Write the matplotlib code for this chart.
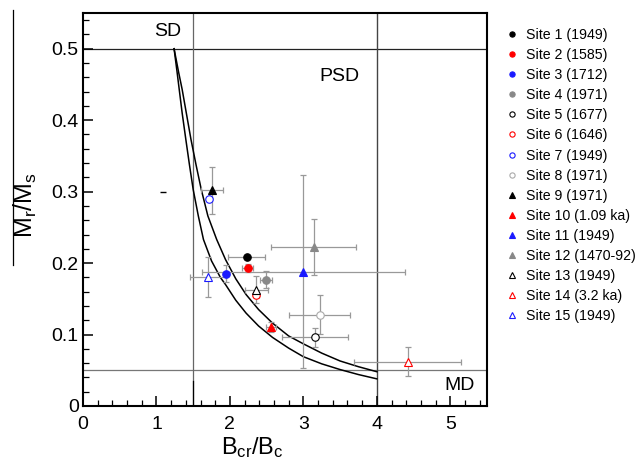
import matplotlib
matplotlib.use("Agg")
import matplotlib.pyplot as plt
from matplotlib.lines import Line2D
from matplotlib.ticker import MultipleLocator, FixedLocator, FixedFormatter

plt.rcParams['font.family'] = ['Liberation Sans', 'DejaVu Sans']
plt.rcParams['mathtext.fontset'] = 'custom'
plt.rcParams['mathtext.rm'] = 'Liberation Sans'
plt.rcParams['mathtext.it'] = 'Liberation Sans:italic'

# ---- data ----
site_labels = ['Site 1 (1949)', 'Site 2 (1585)', 'Site 3 (1712)', 'Site 4 (1971)',
               'Site 5 (1677)', 'Site 6 (1646)', 'Site 7 (1949)', 'Site 8 (1971)',
               'Site 9 (1971)', 'Site 10 (1.09 ka)', 'Site 11 (1949)',
               'Site 12 (1470-92)', 'Site 13 (1949)', 'Site 14 (3.2 ka)',
               'Site 15 (1949)']
bcr_bc = [2.23, 2.24, 1.95, 2.49, 3.16, 2.36, 1.71, 3.22, 1.75, 2.56, 3.00, 3.14, 2.36, 4.42, 1.70]
mr_ms = [0.208, 0.193, 0.185, 0.177, 0.096, 0.156, 0.290, 0.128, 0.302, 0.110, 0.188, 0.223, 0.163, 0.062, 0.181]
bcr_bc_err = [0.25, 0.08, 0.0, 0.08, 0.45, 0.03, 0.0, 0.41, 0.15, 0.07, 1.38, 0.575, 0.16, 0.73, 0.24]
mr_ms_err = [0.0, 0.006, 0.012, 0.012, 0.013, 0.004, 0.0, 0.027, 0.033, 0.007, 0.135, 0.039, 0.019, 0.020, 0.028]
markers = ['o', 'o', 'o', 'o', 'o', 'o', 'o', 'o', '^', '^', '^', '^', '^', '^', '^']
colors = ['black', 'red', '#1a1aff', '#888888', 'black', 'red', '#1a1aff', '#aaaaaa',
          'black', 'red', '#1a1aff', '#888888', 'black', 'red', '#1a1aff']
filled = [True, True, True, True, False, False, False, False,
          True, True, True, True, False, False, False]

# stray dash mark in the original figure
stray_x = [1.09]
stray_y = [0.30]

# SD-MD mixing curves
curve_upper_x = [1.24, 1.30, 1.35, 1.41, 1.47, 1.54, 1.61, 1.70, 1.82, 1.94, 2.08, 2.22,
                 2.39, 2.58, 2.80, 3.00, 3.25, 3.50, 3.75, 4.00]
curve_upper_y = [0.500, 0.468, 0.443, 0.408, 0.373, 0.337, 0.303, 0.266, 0.233, 0.205,
                 0.178, 0.156, 0.135, 0.116, 0.098, 0.087, 0.074, 0.063, 0.055, 0.048]
curve_lower_x = [1.24, 1.28, 1.31, 1.35, 1.40, 1.45, 1.50, 1.57, 1.64, 1.75, 1.87, 1.94,
                 2.08, 2.22, 2.39, 2.58, 2.80, 3.00, 3.25, 3.50, 3.75, 4.00]
curve_lower_y = [0.500, 0.468, 0.443, 0.410, 0.373, 0.337, 0.303, 0.266, 0.233, 0.203,
                 0.180, 0.170, 0.148, 0.130, 0.112, 0.096, 0.081, 0.069, 0.059, 0.051,
                 0.044, 0.038]

# domain boundaries
sd_mr = 0.5
md_mr = 0.05
sd_bcr = 1.5
md_bcr = 4.0

xtick_vals = [0, 1, 2, 3, 4, 5]
xtick_labels = ['0', '1', '2', '3', '4', '5']
ytick_vals = [0, 0.1, 0.2, 0.3, 0.4, 0.5]
ytick_labels = ['0', '0.1', '0.2', '0.3', '0.4', '0.5']

# ---- figure ----
fig = plt.figure(figsize=(6.39, 4.68), dpi=100)
ax = fig.add_axes([83/639, 1-406/468, (487-83)/639, (406-13)/468])
ax.set_xlim(0, 5.5)
ax.set_ylim(0, 0.55)

# boundaries
ax.axhline(sd_mr, color='#222222', lw=0.9, zorder=1)
ax.axhline(md_mr, color='#777777', lw=0.9, zorder=1)
ax.axvline(sd_bcr, color='#666666', lw=0.9, zorder=1)
ax.plot([sd_bcr, sd_bcr], [0, 0.035], color='black', lw=0.9, zorder=1)
ax.axvline(md_bcr, color='#444444', lw=1.0, zorder=1)

# curves
ax.plot(curve_upper_x, curve_upper_y, color='black', lw=1.1, zorder=2)
ax.plot(curve_lower_x, curve_lower_y, color='black', lw=1.1, zorder=2)

# data
for i in range(len(site_labels)):
    ax.errorbar(bcr_bc[i], mr_ms[i],
                xerr=bcr_bc_err[i] if bcr_bc_err[i] > 0 else None,
                yerr=mr_ms_err[i] if mr_ms_err[i] > 0 else None,
                fmt='none', ecolor='#999999', elinewidth=0.9, capsize=2.4,
                capthick=0.9, zorder=3)
for i in range(len(site_labels)):
    ms = 5.4 if markers[i] == 'o' else 5.8
    ax.plot(bcr_bc[i], mr_ms[i], linestyle='none', marker=markers[i], markersize=ms,
            markerfacecolor=colors[i] if filled[i] else 'white',
            markeredgecolor=colors[i], markeredgewidth=0.8, zorder=4,
            label=site_labels[i])
ax.plot(stray_x, stray_y, linestyle='none', marker='_', markersize=4,
        color='black', markeredgewidth=1.0, zorder=4)

# region labels
ax.text(1.15, 0.524, 'SD', fontsize=14, ha='center', va='center')
ax.text(3.49, 0.461, 'PSD', fontsize=14, ha='center', va='center')
ax.text(5.12, 0.028, 'MD', fontsize=14, ha='center', va='center')

# ticks
ax.xaxis.set_major_locator(FixedLocator(xtick_vals))
ax.xaxis.set_major_formatter(FixedFormatter(xtick_labels))
ax.yaxis.set_major_locator(FixedLocator(ytick_vals))
ax.yaxis.set_major_formatter(FixedFormatter(ytick_labels))
ax.xaxis.set_minor_locator(MultipleLocator(0.2))
ax.yaxis.set_minor_locator(MultipleLocator(0.02))
ax.tick_params(which='both', direction='in', top=False, right=False, labelsize=14)
ax.tick_params(which='major', length=7, width=1.1)
ax.tick_params(which='minor', length=4, width=0.9)
for s in ax.spines.values():
    s.set_linewidth(1.5)
ax.tick_params(axis='x', pad=7)
ax.tick_params(axis='y', pad=3)

ax.set_xlabel(r'$\mathregular{B_{cr}/B_c}$', fontsize=17)
ax.xaxis.set_label_coords(0.42, -0.075)
ax.set_ylabel(r'$\mathregular{M_r/M_s}$', fontsize=18)
ax.yaxis.set_label_coords(-0.11, 0.51)
fig.add_artist(Line2D([13/639, 13/639], [1-10/468, 1-265/468], color='black', lw=0.9))

leg = ax.legend(loc='upper left', bbox_to_anchor=(504/639, 1-28/468),
                bbox_transform=fig.transFigure, frameon=False, fontsize=10.2,
                handlelength=1.1, handletextpad=0.45, labelspacing=0.43,
                borderpad=0, borderaxespad=0, markerscale=0.7)

fig.savefig('out.png', dpi=100)
